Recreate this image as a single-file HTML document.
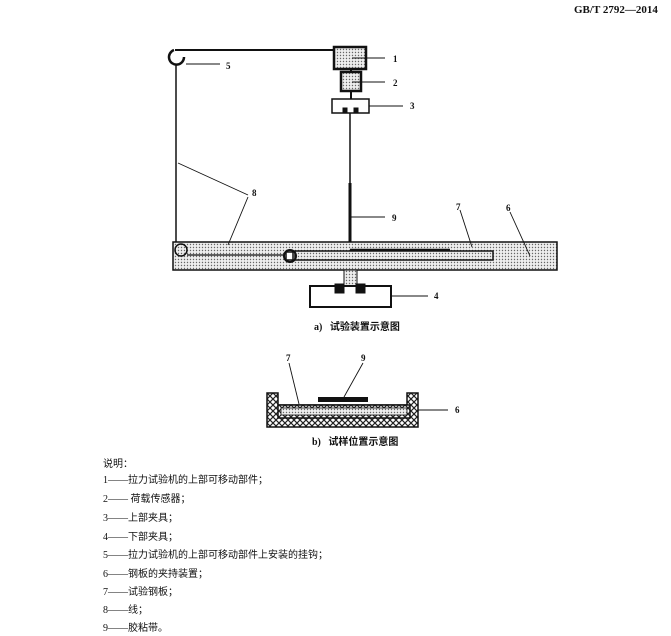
<!DOCTYPE html>
<html><head><meta charset="utf-8"><style>
body{margin:0;background:#fff;width:671px;height:636px;overflow:hidden;position:relative;font-family:"Liberation Serif","Noto Sans CJK SC",sans-serif;color:#111}
.t{position:absolute;font-size:10px;white-space:nowrap}
</style></head><body>
<div class="t" style="left:574px;top:4px;font-weight:bold;font-size:11px">GB/T 2792—2014</div>
<svg width="671" height="636" style="position:absolute;left:0;top:0" font-family="Liberation Serif,serif" font-size="9">
<defs>
<pattern id="dot" width="3" height="3" patternUnits="userSpaceOnUse"><rect width="3" height="3" fill="#eee"/><circle cx="1.5" cy="1.5" r="0.7" fill="#666"/></pattern>
<pattern id="hx" width="6" height="6" patternUnits="userSpaceOnUse"><rect width="6" height="6" fill="#fff"/><path d="M0 0L6 6M6 0L0 6" stroke="#222" stroke-width="1.2"/></pattern>
</defs>
<g stroke="#111" fill="none">
<line x1="175" y1="50" x2="335" y2="50" stroke-width="2"/>
<path d="M174 50 A7.5 7.5 0 1 0 184 57" stroke-width="2.5"/>
<line x1="176" y1="64" x2="176" y2="246" stroke-width="1.5"/>
<rect x="334" y="47" width="32" height="22" fill="url(#dot)" stroke-width="2.5"/>
<line x1="351" y1="69" x2="351" y2="72" stroke-width="2"/>
<rect x="341" y="72" width="20" height="19" fill="url(#dot)" stroke-width="2.5"/>
<line x1="351" y1="91" x2="351" y2="99" stroke-width="2"/>
<rect x="332" y="99" width="37" height="14" fill="#fff" stroke-width="1.5"/>
<rect x="343" y="108" width="4" height="5" fill="#111"/><rect x="354" y="108" width="4" height="5" fill="#111"/>
<line x1="350" y1="113" x2="350" y2="183" stroke-width="1.5"/>
<line x1="350" y1="183" x2="350" y2="250" stroke-width="3"/>
<rect x="173" y="242" width="384" height="28" fill="url(#dot)" stroke-width="1.5"/>
<rect x="295" y="251" width="198" height="9" fill="url(#dot)" stroke-width="1.5"/>
<line x1="350" y1="250" x2="450" y2="250" stroke-width="2.5"/>
<circle cx="181" cy="250" r="6" fill="url(#dot)" stroke-width="1.5"/>
<line x1="187" y1="255" x2="285" y2="255" stroke-width="1.2"/>
<circle cx="290" cy="256" r="6" fill="none" stroke-width="2"/>
<rect x="286" y="252" width="7" height="8" fill="#fff" stroke-width="1.5"/>
<rect x="344" y="270" width="13" height="16" fill="url(#dot)" stroke-width="1"/>
<rect x="310" y="286" width="81" height="21" fill="#fff" stroke-width="2"/>
<rect x="335" y="284" width="9" height="9" fill="#111"/><rect x="356" y="284" width="9" height="9" fill="#111"/>
<g stroke-width="0.9">
<line x1="352" y1="58" x2="385" y2="58"/><line x1="352" y1="82" x2="385" y2="82"/>
<line x1="369" y1="106" x2="403" y2="106"/><line x1="186" y1="64" x2="220" y2="64"/>
<line x1="178" y1="163" x2="248" y2="195"/><line x1="228" y1="245" x2="248" y2="197"/>
<line x1="351" y1="217" x2="385" y2="217"/><line x1="472" y1="247" x2="460" y2="210"/>
<line x1="530" y1="256" x2="510" y2="212"/><line x1="391" y1="296" x2="428" y2="296"/>
</g>
<path d="M267 393H278V405H407V393H418V427H267Z" fill="url(#hx)" stroke-width="1.5"/>
<rect x="278" y="405" width="132" height="13" fill="url(#hx)" stroke-width="1.5"/>
<rect x="281" y="408" width="126" height="7" fill="url(#dot)" stroke-width="0.8"/>
<rect x="318" y="397" width="50" height="5" fill="#111" stroke="none"/>
<g stroke-width="0.9"><line x1="289" y1="363" x2="299" y2="404"/><line x1="363" y1="363" x2="344" y2="397"/><line x1="418" y1="410" x2="448" y2="410"/></g>
</g>
<g fill="#111" font-weight="bold">
<text x="393" y="62">1</text><text x="393" y="86">2</text><text x="410" y="109">3</text><text x="226" y="69">5</text>
<text x="252" y="196">8</text><text x="392" y="221">9</text><text x="456" y="210">7</text><text x="506" y="211">6</text><text x="434" y="299">4</text>
<text x="286" y="361">7</text><text x="361" y="361">9</text><text x="455" y="413">6</text>
</g>
</svg>
<div class="t" style="left:314px;top:318px;font-weight:bold">a)&nbsp;&nbsp; 试验装置示意图</div>
<div class="t" style="left:312px;top:433px;font-weight:bold">b)&nbsp;&nbsp; 试样位置示意图</div>
<div class="t" style="left:103px;top:455px">说明：</div>
<div class="t" style="left:103px;top:471px">1——拉力试验机的上部可移动部件；</div>
<div class="t" style="left:103px;top:490px">2—— 荷载传感器；</div>
<div class="t" style="left:103px;top:509px">3——上部夹具；</div>
<div class="t" style="left:103px;top:528px">4——下部夹具；</div>
<div class="t" style="left:103px;top:546px">5——拉力试验机的上部可移动部件上安装的挂钩；</div>
<div class="t" style="left:103px;top:565px">6——钢板的夹持装置；</div>
<div class="t" style="left:103px;top:583px">7——试验钢板；</div>
<div class="t" style="left:103px;top:601px">8——线；</div>
<div class="t" style="left:103px;top:619px">9——胶粘带。</div>
</body></html>
